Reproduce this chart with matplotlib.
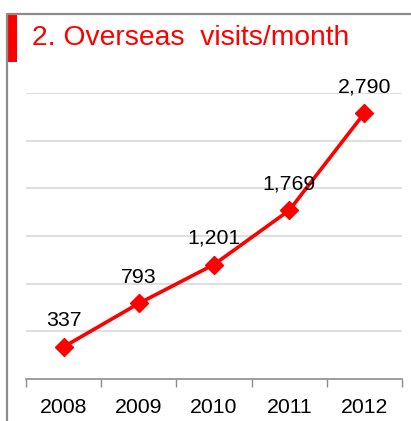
import matplotlib
matplotlib.use("Agg")
import matplotlib.pyplot as plt
from matplotlib.lines import Line2D
from matplotlib.patches import Rectangle

years = ["2008", "2009", "2010", "2011", "2012"]
visits = [337, 793, 1201, 1769, 2790]
labels = ["337", "793", "1,201", "1,769", "2,790"]
title = "2. Overseas  visits/month"

W, H = 411, 421
fig = plt.figure(figsize=(W / 100, H / 100), dpi=100)
plt.rcParams['font.family'] = ['Liberation Sans', 'DejaVu Sans']

def fx(px):
    return px / W

def fy(py):
    return 1 - py / H

# frame
fig.add_artist(Line2D([fx(7), fx(7), fx(411)], [fy(421), fy(14), fy(14)],
                      color="#8c8c8c", lw=1.6, transform=fig.transFigure))
fig.add_artist(Rectangle((fx(7), fy(62)), fx(10), fy(15) - fy(62),
                         color="#ff0000", transform=fig.transFigure, lw=0))
fig.text(fx(32), fy(38), title, color="#ff0000", fontsize=20.3, va="center", ha="left")

ax = fig.add_axes([fx(26), fy(379), fx(402) - fx(26), fy(93) - fy(379)])
x = list(range(len(years)))
ax.plot(x, visits, color="#ff0000", lw=2.6, marker="D", ms=9.5, clip_on=False, zorder=3)
for xi, v, lab in zip(x, visits, labels):
    ax.annotate(lab, (xi, v), xytext=(0, 19), textcoords="offset points",
                ha="center", va="center", fontsize=15.3, color="black")

ax.set_xlim(-0.5, len(years) - 0.5)
ax.set_ylim(0, 3000)
ax.set_yticks(range(500, 3001, 500))
ax.yaxis.grid(True, color="#d9d9d9", lw=1.2)
ax.set_axisbelow(True)
ax.tick_params(axis="y", left=False, labelleft=False)
ax.set_xticks([i - 0.5 for i in range(len(years) + 1)])
ax.set_xticklabels([])
ax.set_xticks(x, minor=True)
ax.set_xticklabels(years, minor=True, fontsize=15.3, color="black")
ax.tick_params(axis="x", which="major", length=6, color="#8c8c8c", width=1)
ax.tick_params(axis="x", which="minor", length=0, pad=14)
for s in ["top", "left", "right"]:
    ax.spines[s].set_visible(False)
ax.spines["bottom"].set_color("#8c8c8c")
ax.spines["bottom"].set_linewidth(1.2)

fig.savefig("out.png", dpi=100)
